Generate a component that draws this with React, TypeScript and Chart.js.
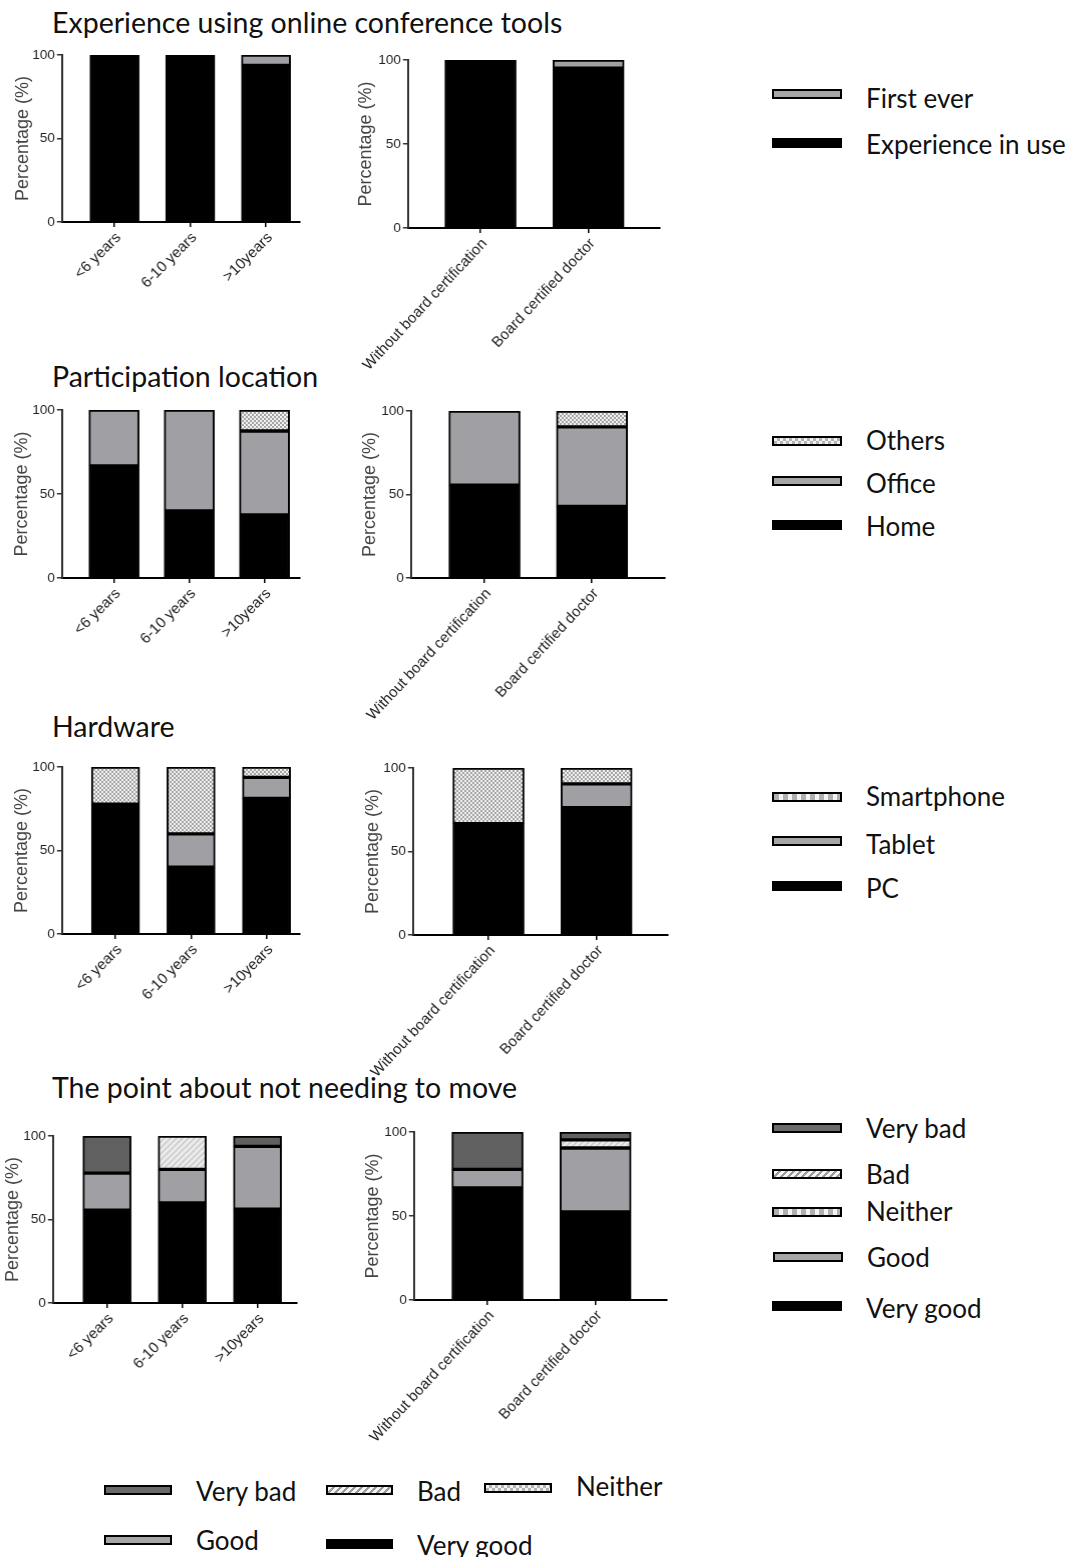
import React, { useEffect, useRef } from "react";
import { Chart, registerables } from "chart.js";

Chart.register(...registerables);
Chart.defaults.font.family = "'Liberation Sans', Arial, sans-serif";

// ---------- categories ----------
const yearGroups = ["<6 years", "6-10 years", ">10years"];
const certGroups = ["Without board certification", "Board certified doctor"];
const yTicks = [0, 50, 100];

// ---------- Experience using online conference tools (%) ----------
const expInUseYears = [100, 100, 93.75];
const firstEverYears = [0, 0, 6.25];
const expInUseCert = [100, 95.2];
const firstEverCert = [0, 4.8];

// ---------- Participation location (%) ----------
const homeYears = [66.7, 40, 37.5];
const officeYears = [33.3, 60, 50];
const othersYears = [0, 0, 12.5];
const homeCert = [55.6, 42.9];
const officeCert = [44.4, 47.6];
const othersCert = [0, 9.5];

// ---------- Hardware (%) ----------
const pcYears = [77.8, 40, 81.25];
const tabletYears = [0, 20, 12.5];
const smartphoneYears = [22.2, 40, 6.25];
const pcCert = [66.7, 76.2];
const tabletCert = [0, 14.3];
const smartphoneCert = [33.3, 9.5];

// ---------- The point about not needing to move (%) ----------
const veryGoodYears = [55.6, 60, 56.25];
const goodYears = [22.2, 20, 37.5];
const neitherYears = [0, 0, 0];
const badYears = [0, 20, 0];
const veryBadYears = [22.2, 0, 6.25];
const veryGoodCert = [66.7, 52.4];
const goodCert = [11.1, 38.1];
const neitherCert = [0, 0];
const badCert = [0, 4.8];
const veryBadCert = [22.2, 4.7];

// ---------- legend labels ----------
const expLegend = ["First ever", "Experience in use"];
const locLegend = ["Others", "Office", "Home"];
const hwLegend = ["Smartphone", "Tablet", "PC"];
const ptLegend = ["Very bad", "Bad", "Neither", "Good", "Very good"];

type FillKey = "black" | "gray" | "dark" | "checker" | "hatch" | "dots";
type Series = { label: string; data: number[]; fill: FillKey };
type Geom = { ax: number; yt: number; yb: number; xr: number; p1: number; pN: number; titleX: number; barW: number; rot: number };

const PADT = 12;
const PADR = 4;
const HX = 150;
const TPAD = 4;
const TFONT = 18;
const SANS = "Lato, 'Open Sans', sans-serif";

function makeFills(): Record<FillKey, string | CanvasPattern> {
  const mk = (w: number, h: number, draw: (g: CanvasRenderingContext2D) => void) => {
    const c = document.createElement("canvas");
    c.width = w;
    c.height = h;
    const g = c.getContext("2d")!;
    draw(g);
    return g.createPattern(c, "repeat")!;
  };
  const checker = mk(4, 4, (g) => {
    g.fillStyle = "#f2f2f2";
    g.fillRect(0, 0, 4, 4);
    g.fillStyle = "#a4a4a4";
    g.fillRect(0, 0, 2, 2);
    g.fillRect(2, 2, 2, 2);
  });
  const hatch = mk(6, 6, (g) => {
    g.fillStyle = "#ebebeb";
    g.fillRect(0, 0, 6, 6);
    g.strokeStyle = "#c2c2c2";
    g.lineWidth = 1.2;
    g.beginPath();
    g.moveTo(0, 6);
    g.lineTo(6, 0);
    g.moveTo(-1, 1);
    g.lineTo(1, -1);
    g.moveTo(5, 7);
    g.lineTo(7, 5);
    g.stroke();
  });
  const dots = mk(8, 4, (g) => {
    g.fillStyle = "#f4f4f4";
    g.fillRect(0, 0, 8, 4);
    g.fillStyle = "#a8a8a8";
    g.fillRect(0, 0, 4, 4);
  });
  return { black: "#000000", gray: "#a0a0a4", dark: "#606060", checker, hatch, dots };
}

function Panel({ cats, series, g }: { cats: string[]; series: Series[]; g: Geom }) {
  const ref = useRef<HTMLCanvasElement>(null);
  const lh = TFONT * 1.2;
  const left = g.titleX - TPAD - lh / 2;
  const wy = g.ax - left;
  const top = g.yt - PADT;
  const width = g.xr - left + PADR;
  const height = g.yb - g.yt + PADT + HX;

  useEffect(() => {
    const fills = makeFills();
    const n = cats.length;
    const s = (g.pN - g.p1) / (n - 1);
    const xmin = 1 - (g.p1 - g.ax) / s;
    const xmax = n + (g.xr - g.pN) / s;
    const chart = new Chart(ref.current!, {
      type: "bar",
      data: {
        datasets: series.map((sr) => ({
          label: sr.label,
          data: sr.data.map((v, i) => ({ x: i + 1, y: v })),
          backgroundColor: fills[sr.fill] as any,
          borderColor: "#000",
          borderWidth: 2,
          borderSkipped: false,
          barThickness: g.barW,
        })),
      },
      options: {
        animation: false,
        responsive: false,
        maintainAspectRatio: false,
        layout: { padding: { top: PADT, right: PADR, left: 0, bottom: 0 } },
        plugins: { legend: { display: false }, tooltip: { enabled: false } },
        scales: {
          x: {
            type: "linear",
            stacked: true,
            offset: false,
            min: xmin,
            max: xmax,
            afterBuildTicks: (sc: any) => {
              sc.ticks = cats.map((_, i) => ({ value: i + 1 }));
            },
            afterFit: (sc: any) => {
              sc.height = HX;
              sc.paddingLeft = 0;
              sc.paddingRight = 0;
            },
            grid: { display: true, offset: false, drawOnChartArea: false, drawTicks: true, tickLength: 5, color: "#000", lineWidth: 1.5 },
            border: { display: true, color: "#000", width: 2 },
            ticks: {
              autoSkip: false,
              minRotation: g.rot,
              maxRotation: g.rot,
              padding: 2,
              labelOffset: 4,
              color: "#222",
              font: { size: 15 },
              callback: (v: any) => cats[Math.round(Number(v)) - 1] ?? "",
            },
          },
          y: {
            stacked: true,
            min: 0,
            max: 100,
            afterBuildTicks: (sc: any) => {
              sc.ticks = yTicks.map((v) => ({ value: v }));
            },
            afterFit: (sc: any) => {
              sc.width = wy;
              sc.paddingTop = 0;
              sc.paddingBottom = 0;
            },
            grid: { display: true, drawOnChartArea: false, drawTicks: true, tickLength: 5, color: "#333", lineWidth: 1.5 },
            border: { display: true, color: "#333", width: 2 },
            ticks: { color: "#222", font: { size: 13.5 }, padding: 2 },
            title: {
              display: true,
              text: "Percentage (%)",
              color: "#444",
              font: { size: TFONT },
              padding: { top: TPAD, bottom: 0 },
            },
          },
        },
      },
    });
    return () => chart.destroy();
  }, []);

  return (
    <canvas
      ref={ref}
      width={width}
      height={height}
      style={{ position: "absolute", left, top, width, height }}
    />
  );
}

const swatchBg: Record<FillKey, string> = {
  black: "#000",
  gray: "#a6a6a6",
  dark: "#6a6a6a",
  checker: "repeating-conic-gradient(#b4b4b4 0% 25%, #f2f2f2 0% 50%) 0 0 / 6px 6px",
  hatch: "repeating-linear-gradient(135deg, #f4f4f4 0 3px, #9a9a9a 3px 5px)",
  dots: "repeating-linear-gradient(90deg, #b0b0b0 0 5px, #f4f4f4 5px 9px)",
};

function LegendItem({ x, sw, cy, ty, label, fill, size }: { x: number; sw: number; cy: number; ty: number; label: string; fill: FillKey; size: number }) {
  return (
    <>
      <div
        style={{
          position: "absolute",
          left: x,
          top: cy - 5,
          width: sw,
          height: 10,
          boxSizing: "border-box",
          border: "2px solid #000",
          background: swatchBg[fill],
        }}
      />
      <div
        style={{
          position: "absolute",
          left: x + sw + 24,
          top: ty,
          transform: "translateY(-50%)",
          lineHeight: 1,
          fontFamily: SANS,
          fontSize: size,
          color: "#111",
          whiteSpace: "nowrap",
        }}
      >
        {label}
      </div>
    </>
  );
}

function Title({ y, text }: { y: number; text: string }) {
  return (
    <div
      style={{
        position: "absolute",
        left: 52,
        top: y,
        transform: "translateY(-50%)",
        lineHeight: 1,
        fontFamily: SANS,
        fontSize: 28.5,
        color: "#111",
        whiteSpace: "nowrap",
      }}
    >
      {text}
    </div>
  );
}

export default function App() {
  const L = 26;
  return (
    <div style={{ position: "absolute", left: 0, top: 0, width: 1068, height: 1557, background: "#fff", overflow: "hidden" }}>
      <Title y={22} text="Experience using online conference tools" />
      <Title y={376} text="Participation location" />
      <Title y={726} text="Hardware" />
      <Title y={1087} text="The point about not needing to move" />

      <Panel
        cats={yearGroups}
        g={{ ax: 62, yt: 55, yb: 222, xr: 300, p1: 114.5, pN: 266, titleX: 23, barW: 49, rot: 45 }}
        series={[
          { label: expLegend[1], data: expInUseYears, fill: "black" },
          { label: expLegend[0], data: firstEverYears, fill: "gray" },
        ]}
      />
      <Panel
        cats={certGroups}
        g={{ ax: 408, yt: 60, yb: 228, xr: 660, p1: 480.5, pN: 588.5, titleX: 366, barW: 71, rot: 47 }}
        series={[
          { label: expLegend[1], data: expInUseCert, fill: "black" },
          { label: expLegend[0], data: firstEverCert, fill: "gray" },
        ]}
      />
      <Panel
        cats={yearGroups}
        g={{ ax: 62, yt: 410, yb: 578, xr: 300, p1: 114, pN: 264.5, titleX: 22, barW: 50, rot: 45 }}
        series={[
          { label: locLegend[2], data: homeYears, fill: "black" },
          { label: locLegend[1], data: officeYears, fill: "gray" },
          { label: locLegend[0], data: othersYears, fill: "checker" },
        ]}
      />
      <Panel
        cats={certGroups}
        g={{ ax: 411, yt: 411, yb: 578, xr: 665, p1: 484.5, pN: 592, titleX: 370, barW: 71, rot: 47 }}
        series={[
          { label: locLegend[2], data: homeCert, fill: "black" },
          { label: locLegend[1], data: officeCert, fill: "gray" },
          { label: locLegend[0], data: othersCert, fill: "checker" },
        ]}
      />
      <Panel
        cats={yearGroups}
        g={{ ax: 62, yt: 767, yb: 934, xr: 300, p1: 115.5, pN: 266.5, titleX: 22, barW: 48, rot: 45 }}
        series={[
          { label: hwLegend[2], data: pcYears, fill: "black" },
          { label: hwLegend[1], data: tabletYears, fill: "gray" },
          { label: hwLegend[0], data: smartphoneYears, fill: "checker" },
        ]}
      />
      <Panel
        cats={certGroups}
        g={{ ax: 413, yt: 768, yb: 935, xr: 668, p1: 488.5, pN: 596.5, titleX: 373, barW: 71, rot: 47 }}
        series={[
          { label: hwLegend[2], data: pcCert, fill: "black" },
          { label: hwLegend[1], data: tabletCert, fill: "gray" },
          { label: hwLegend[0], data: smartphoneCert, fill: "checker" },
        ]}
      />
      <Panel
        cats={yearGroups}
        g={{ ax: 53, yt: 1136, yb: 1303, xr: 297, p1: 107, pN: 257.5, titleX: 13, barW: 48, rot: 45 }}
        series={[
          { label: ptLegend[4], data: veryGoodYears, fill: "black" },
          { label: ptLegend[3], data: goodYears, fill: "gray" },
          { label: ptLegend[2], data: neitherYears, fill: "dots" },
          { label: ptLegend[1], data: badYears, fill: "hatch" },
          { label: ptLegend[0], data: veryBadYears, fill: "dark" },
        ]}
      />
      <Panel
        cats={certGroups}
        g={{ ax: 414, yt: 1132, yb: 1300, xr: 667, p1: 487.5, pN: 595.5, titleX: 373, barW: 71, rot: 47 }}
        series={[
          { label: ptLegend[4], data: veryGoodCert, fill: "black" },
          { label: ptLegend[3], data: goodCert, fill: "gray" },
          { label: ptLegend[2], data: neitherCert, fill: "dots" },
          { label: ptLegend[1], data: badCert, fill: "hatch" },
          { label: ptLegend[0], data: veryBadCert, fill: "dark" },
        ]}
      />

      {/* right-hand legends */}
      <LegendItem x={772} sw={70} cy={94} ty={98} label={expLegend[0]} fill="gray" size={L} />
      <LegendItem x={772} sw={70} cy={143} ty={144} label={expLegend[1]} fill="black" size={L} />

      <LegendItem x={772} sw={70} cy={441} ty={440} label={locLegend[0]} fill="checker" size={L} />
      <LegendItem x={772} sw={70} cy={481} ty={483} label={locLegend[1]} fill="gray" size={L} />
      <LegendItem x={772} sw={70} cy={525} ty={526} label={locLegend[2]} fill="black" size={L} />

      <LegendItem x={772} sw={70} cy={797} ty={796} label={hwLegend[0]} fill="dots" size={L} />
      <LegendItem x={772} sw={70} cy={841} ty={844} label={hwLegend[1]} fill="gray" size={L} />
      <LegendItem x={772} sw={70} cy={886} ty={888} label={hwLegend[2]} fill="black" size={L} />

      <LegendItem x={772} sw={70} cy={1128} ty={1128} label={ptLegend[0]} fill="dark" size={L} />
      <LegendItem x={772} sw={70} cy={1174} ty={1174} label={ptLegend[1]} fill="hatch" size={L} />
      <LegendItem x={772} sw={70} cy={1212} ty={1211} label={ptLegend[2]} fill="dots" size={L} />
      <LegendItem x={773} sw={70} cy={1257} ty={1257} label={ptLegend[3]} fill="gray" size={L} />
      <LegendItem x={772} sw={70} cy={1306} ty={1308} label={ptLegend[4]} fill="black" size={L} />

      {/* bottom legend */}
      <LegendItem x={104} sw={68} cy={1490} ty={1491} label={ptLegend[0]} fill="dark" size={L} />
      <LegendItem x={326} sw={67} cy={1490} ty={1491} label={ptLegend[1]} fill="hatch" size={L} />
      <LegendItem x={484} sw={68} cy={1488} ty={1486} label={ptLegend[2]} fill="checker" size={L} />
      <LegendItem x={104} sw={68} cy={1540} ty={1540} label={ptLegend[3]} fill="gray" size={L} />
      <LegendItem x={326} sw={67} cy={1544} ty={1545} label={ptLegend[4]} fill="black" size={L} />
    </div>
  );
}
